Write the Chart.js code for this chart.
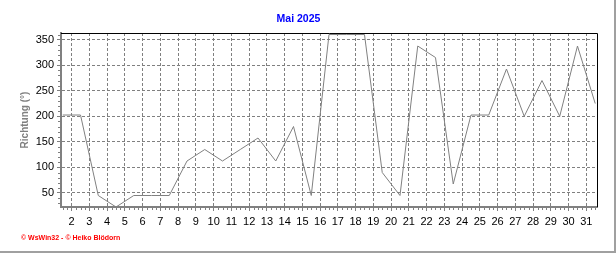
<!DOCTYPE html>
<html>
<head>
<meta charset="utf-8">
<script src="https://cdn.jsdelivr.net/npm/chart.js@4.4.1/dist/chart.umd.min.js"></script>
<style>
  body { margin: 0; background: #fff; }
  #wrap {
    position: relative; width: 616px; height: 253px; box-sizing: border-box;
    border-right: 2px solid #a0a0a0; border-bottom: 2px solid #a0a0a0;
  }
  #chart { display: block; }
  #footer {
    position: absolute; left: 21px; top: 234px;
    font: bold 7px "Liberation Sans", Arial, sans-serif; color: #ff0000;
    white-space: nowrap;
  }
</style>
</head>
<body>
<div id="wrap">
  <canvas id="chart" width="614" height="251"></canvas>
  <div id="footer">© WsWin32 - © Heiko Blödorn</div>
</div>
<script>
// Tage im Mai und Windrichtung (Grad)
const tage = [1, 2, 3, 4, 5, 6, 7, 8, 9, 10, 11, 12, 13, 14, 15, 16,
  17, 18, 19, 20, 21, 22, 23, 24, 25, 26, 27, 28, 29, 30, 31];
const richtung = [202.5, 202.5, 45, 22.5, 45, 45, 45, 112.5, 135, 112.5, 135,
  157.5, 112.5, 180, 45, 360, 360, 360, 90, 45, 337.5, 315, 67.5, 202.5,
  202.5, 292.5, 200, 270, 200, 337.5, 225];

const titel = "Mai 2025";
const yTitel = "Richtung (°)";

const grau = "#808080";
const schrift = '"Liberation Sans", Arial, sans-serif';

// Werte liegen in der Tagesmitte, Beschriftung am Tagesanfang
const punkte = tage.map((t, i) => ({ x: t + 0.5, y: richtung[i] }));

// kleine Striche an den Achsen + Rahmen oben/rechts
const rahmen = {
  id: "rahmen",
  afterDraw(chart) {
    const ctx = chart.ctx;
    const a = chart.chartArea;
    const sx = chart.scales.x, sy = chart.scales.y;
    ctx.save();
    ctx.strokeStyle = "#000";
    ctx.lineWidth = 1;
    ctx.beginPath();
    ctx.moveTo(a.left, a.top + 0.5);
    ctx.lineTo(a.right + 0.5, a.top + 0.5);
    ctx.lineTo(a.right + 0.5, a.bottom);
    ctx.stroke();

    ctx.strokeStyle = grau;
    ctx.beginPath();
    for (let v = 1.5; v <= 31.6; v += 0.25) {
      if (Math.abs(v - Math.round(v)) < 0.01) continue;
      const px = Math.round(sx.getPixelForValue(v)) + 0.5;
      ctx.moveTo(px, a.bottom + 1);
      ctx.lineTo(px, a.bottom + 3);
    }
    for (let v = 30; v <= 360; v += 10) {
      if (v % 50 === 0) continue;
      const py = Math.round(sy.getPixelForValue(v)) + 0.5;
      ctx.moveTo(a.left - 3, py);
      ctx.lineTo(a.left - 1, py);
    }
    ctx.stroke();
    ctx.restore();
  }
};

new Chart(document.getElementById("chart"), {
  type: "line",
  data: {
    datasets: [{
      data: punkte,
      borderColor: grau,
      borderWidth: 1,
      pointRadius: 0,
      tension: 0,
      fill: false
    }]
  },
  options: {
    responsive: false,
    animation: false,
    devicePixelRatio: 1,
    layout: { padding: { left: 0, right: 17, top: 0, bottom: 0 } },
    plugins: {
      legend: { display: false },
      tooltip: { enabled: false },
      title: {
        display: true,
        text: titel,
        color: "#0000ff",
        font: { family: schrift, size: 10.5, weight: "bold" },
        padding: { top: 13, bottom: 7.4 }
      }
    },
    scales: {
      x: {
        type: "linear",
        min: 1.4,
        max: 31.6,
        afterFit(s) { s.height = 44; },
        ticks: {
          stepSize: 1,
          includeBounds: false,
          autoSkip: false,
          maxRotation: 0,
          color: "#000",
          padding: 4,
          font: { family: schrift, size: 11 }
        },
        grid: { color: grau, lineWidth: 1, tickLength: 4 },
        border: { color: grau, width: 2, dash: [3, 2] }
      },
      y: {
        min: 22.5,
        max: 363,
        afterFit(s) { s.width = 61; },
        ticks: {
          stepSize: 50,
          includeBounds: false,
          color: "#000",
          padding: 3,
          font: { family: schrift, size: 11 }
        },
        grid: { color: grau, lineWidth: 1, tickLength: 4 },
        border: { color: grau, width: 2, dash: [3, 2] },
        title: {
          display: true,
          text: yTitel,
          color: grau,
          padding: { top: 19, bottom: 0 },
          font: { family: schrift, size: 10, weight: "bold" }
        }
      }
    }
  },
  plugins: [rahmen]
});
</script>
</body>
</html>
